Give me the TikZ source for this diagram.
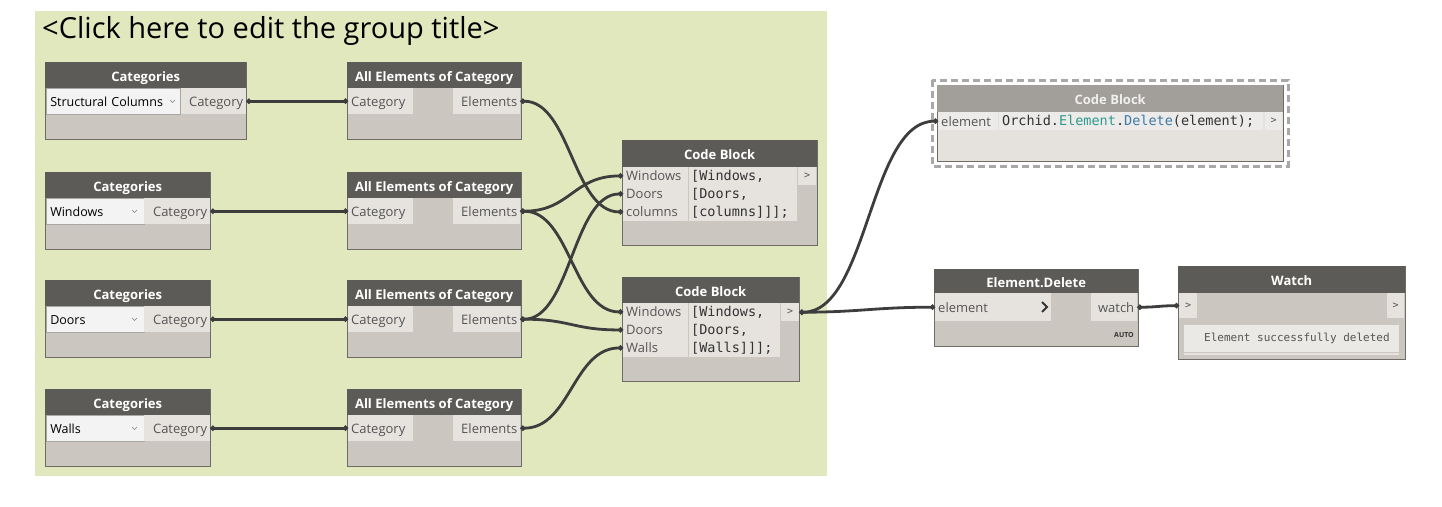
\documentclass[tikz,border=0pt]{standalone}
\usepackage{fontspec}
\setmainfont{Open Sans}
\newfontfamily\monof{DejaVu Sans Mono}
\usetikzlibrary{arrows.meta}
\definecolor{grpc}{HTML}{E1E8BD}
\definecolor{hdrc}{HTML}{5D5B58}
\definecolor{bodyc}{HTML}{CBC6BF}
\definecolor{portc}{HTML}{E6E3DF}
\definecolor{dropc}{HTML}{F3F3F3}
\definecolor{bordc}{HTML}{6F6C68}
\definecolor{wirec}{HTML}{3D3D3D}
\definecolor{labc}{HTML}{555555}
\definecolor{codec}{HTML}{333333}
\definecolor{cbhdr}{HTML}{A29E9A}
\definecolor{cbbody}{HTML}{E5E2DE}
\definecolor{teal}{HTML}{2E9A8C}
\definecolor{dblue}{HTML}{3D7AA8}
\definecolor{dashc}{HTML}{A8A8A8}
\tikzset{
  body/.style={fill=bodyc, draw=bordc, line width=0.8pt, inner sep=0pt, anchor=north west},
  hdr/.style={fill=hdrc, inner sep=0pt, anchor=north west, text=white, text height=12pt, text depth=0pt, font=\fontsize{13}{15}\selectfont\bfseries},
  pin/.style={fill=portc, inner xsep=3pt, inner ysep=0pt, anchor=north west, align=left, text=labc, text height=10pt, text depth=0pt, font=\fontsize{13}{15}\selectfont},
  pout/.style={fill=portc, inner xsep=3pt, inner ysep=0pt, anchor=north west, align=right, text=labc, text height=10pt, text depth=0pt, font=\fontsize{13}{15}\selectfont},
  drop/.style={fill=dropc, draw=bordc!60, line width=0.5pt, inner xsep=4pt, inner ysep=0pt, anchor=north west, align=left, text=black, text height=10pt, text depth=0pt, font=\fontsize{12.5}{15}\selectfont},
  cell/.style={fill=portc, inner sep=0pt, anchor=north west},
  code/.style={anchor=west, inner sep=0pt, text=codec, font=\monof\fontsize{13.5}{18}\selectfont},
  gt/.style={fill=portc, inner sep=0pt, anchor=north west, text=labc, font=\monof\fontsize{10}{12}\selectfont},
  wire/.style={draw=wirec, line width=2.8pt, {Circle[length=5pt]}-{Circle[length=5pt]}},
  chev/.style={draw=gray, line width=0.6pt},
}
\begin{document}
\begin{tikzpicture}[x=1pt,y=-1pt]
\useasboundingbox (0,0) rectangle (1442,506);
\fill[white] (0,0) rectangle (1442,506);
% group
\fill[grpc] (35,11) rectangle (827,476);
\node[anchor=base west, inner sep=0pt, font=\fontsize{29}{34}\selectfont] (title) at (42,38) {<Click here to edit the group title>};

% ---------- Categories nodes ----------
% Cat 1
\node[body, minimum width=201pt, minimum height=77pt] (cat1) at (45,62) {};
\node[hdr, minimum width=201pt, minimum height=26pt] (cat1h) at (45,62) {Categories};
\node[drop, text width=126pt, minimum height=26pt] (cat1d) at (46,88) {Structural Columns};
\draw[chev] (170,100) -- (172.5,102.5) -- (175,100);
\node[pout, text width=59pt, minimum height=26pt] (cat1o) at (181,88) {Category};
% Cat 2
\node[body, minimum width=165pt, minimum height=77pt] (cat2) at (45,172) {};
\node[hdr, minimum width=165pt, minimum height=26pt] (cat2h) at (45,172) {Categories};
\node[drop, text width=90pt, minimum height=26pt] (cat2d) at (46,198) {Windows};
\draw[chev] (132,210) -- (134.5,212.5) -- (137,210);
\node[pout, text width=60pt, minimum height=26pt] (cat2o) at (144,198) {Category};
% Cat 3
\node[body, minimum width=165pt, minimum height=77pt] (cat3) at (45,280) {};
\node[hdr, minimum width=165pt, minimum height=26pt] (cat3h) at (45,280) {Categories};
\node[drop, text width=90pt, minimum height=26pt] (cat3d) at (46,306) {Doors};
\draw[chev] (132,318) -- (134.5,320.5) -- (137,318);
\node[pout, text width=60pt, minimum height=26pt] (cat3o) at (144,306) {Category};
% Cat 4
\node[body, minimum width=165pt, minimum height=77pt] (cat4) at (45,389) {};
\node[hdr, minimum width=165pt, minimum height=26pt] (cat4h) at (45,389) {Categories};
\node[drop, text width=90pt, minimum height=26pt] (cat4d) at (46,415) {Walls};
\draw[chev] (132,427) -- (134.5,429.5) -- (137,427);
\node[pout, text width=60pt, minimum height=26pt] (cat4o) at (144,415) {Category};

% ---------- All Elements of Category ----------
\foreach \i/\T in {1/62,2/172,3/280,4/389}{
  \node[body, minimum width=174pt, minimum height=77pt] (ae\i) at (347,\T) {};
  \node[hdr, minimum width=174pt, minimum height=26pt] (ae\i h) at (347,\T) {All Elements of Category};
  \node[pin, text width=59pt, minimum height=26pt] (ae\i i) at (348,\T+26) {Category};
  \node[pout, text width=61pt, minimum height=26pt] (ae\i o) at (453,\T+26) {Elements};
}

% ---------- Code Block 1 ----------
\node[body, minimum width=195pt, minimum height=105pt] (cb1) at (622,140) {};
\node[hdr, minimum width=195pt, minimum height=27pt] (cb1h) at (622,140) {Code Block};
\node[pin, text width=59pt, minimum height=17.5pt] (cb1a) at (623,167) {Windows};
\node[pin, text width=59pt, minimum height=17.5pt] (cb1b) at (623,185) {Doors};
\node[pin, text width=59pt, minimum height=17.5pt] (cb1c) at (623,203) {columns};
\node[cell, minimum width=108pt, minimum height=54pt] (cb1code) at (689,167) {};
\node[code] (cb1l1) at (691,176) {[Windows,};
\node[code] (cb1l2) at (691,194) {[Doors,};
\node[code] (cb1l3) at (691,212) {[columns]]];};
\node[gt, minimum width=18pt, minimum height=18pt] (cb1o) at (798,167) {>};

% ---------- Code Block 2 ----------
\node[body, minimum width=177pt, minimum height=104pt] (cb2) at (622,277) {};
\node[hdr, minimum width=177pt, minimum height=26pt] (cb2h) at (622,277) {Code Block};
\node[pin, text width=59pt, minimum height=17.5pt] (cb2a) at (623,303) {Windows};
\node[pin, text width=59pt, minimum height=17.5pt] (cb2b) at (623,321) {Doors};
\node[pin, text width=59pt, minimum height=17.5pt] (cb2c) at (623,339) {Walls};
\node[cell, minimum width=91pt, minimum height=54pt] (cb2code) at (689,303) {};
\node[code] (cb2l1) at (691,312) {[Windows,};
\node[code] (cb2l2) at (691,330) {[Doors,};
\node[code] (cb2l3) at (691,348) {[Walls]]];};
\node[gt, minimum width=18pt, minimum height=18pt] (cb2o) at (781,303) {>};

% ---------- Code Block (top right, selected) ----------
\draw[dashc, line width=3pt, dash pattern=on 7pt off 4pt] (932,80) rectangle (1288,166);
\node[body, fill=cbbody, minimum width=346pt, minimum height=76pt] (cb3) at (937,85) {};
\node[hdr, fill=cbhdr, text=white!94!black, minimum width=346pt, minimum height=27pt] (cb3h) at (937,85) {Code Block};
\node[pin, fill=portc!70!white, text width=54pt, minimum height=18pt] (cb3i) at (938,112) {element};
\node[cell, fill=portc!70!white, minimum width=264pt, minimum height=18pt] (cb3code) at (999,112) {};
\node[code] (cb3t) at (1002,121) {Orchid.\textcolor{teal}{Element}.\textcolor{dblue}{Delete}(element);};
\node[gt, fill=portc!70!white, minimum width=17pt, minimum height=18pt] (cb3o) at (1265,112) {>};

% ---------- Element.Delete ----------
\node[body, minimum width=204pt, minimum height=77pt] (ed) at (934,269) {};
\node[hdr, minimum width=204pt, minimum height=24pt] (edh) at (934,269) {Element.Delete};
\node[pin, text width=110pt, minimum height=28pt] (edi) at (935,293) {element};
\draw[draw=codec, line width=2pt] (1042,302) -- (1047,307) -- (1042,312);
\node[pout, text width=40pt, minimum height=28pt] (edo) at (1091,293) {watch};
\node[anchor=east, inner sep=0pt, text=codec, font=\fontsize{7}{8}\selectfont\bfseries] (auto) at (1134,335) {AUTO};

% ---------- Watch ----------
\node[body, minimum width=227pt, minimum height=93pt] (w) at (1178,266) {};
\node[hdr, minimum width=227pt, minimum height=27pt] (wh) at (1178,266) {Watch};
\node[gt, minimum width=18pt, minimum height=25pt] (wi) at (1179,293) {>};
\node[gt, minimum width=17pt, minimum height=25pt] (wo) at (1387,293) {>};
\node[cell, fill=portc!80!white, minimum width=215pt, minimum height=27pt] (wbox) at (1184,325) {};
\fill[portc] (1184,353) rectangle (1399,355);
\node[anchor=west, inner sep=0pt, text=labc, font=\monof\fontsize{11}{13}\selectfont] (wtxt) at (1204,338.5) {Element successfully deleted};

% ---------- wires ----------
\draw[wire] (cat1o.east) -- (ae1i.west);
\draw[wire] (cat2o.east) -- (ae2i.west);
\draw[wire] (cat3o.east) -- (ae3i.west);
\draw[wire] (cat4o.east) -- (ae4i.west);
\draw[wire] (ae1o.east) .. controls +(50,0) and +(-50,0) .. (cb1c.west);
\draw[wire] (ae2o.east) .. controls +(50,0) and +(-50,0) .. (cb1a.west);
\draw[wire] (ae2o.east) .. controls +(50,0) and +(-50,0) .. (cb2a.west);
\draw[wire] (ae3o.east) .. controls +(50,0) and +(-50,0) .. (cb1b.west);
\draw[wire] (ae3o.east) .. controls +(50,0) and +(-50,0) .. (cb2b.west);
\draw[wire] (ae4o.east) .. controls +(50,0) and +(-50,0) .. (cb2c.west);
\draw[wire] (cb2o.east) .. controls +(69,0) and +(-69,0) .. (cb3i.west);
\draw[wire] (cb2o.east) .. controls +(60,0) and +(-60,0) .. (edi.west);
\draw[wire] (edo.east) .. controls +(20,0) and +(-20,0) .. (wi.west);
\end{tikzpicture}
\end{document}
